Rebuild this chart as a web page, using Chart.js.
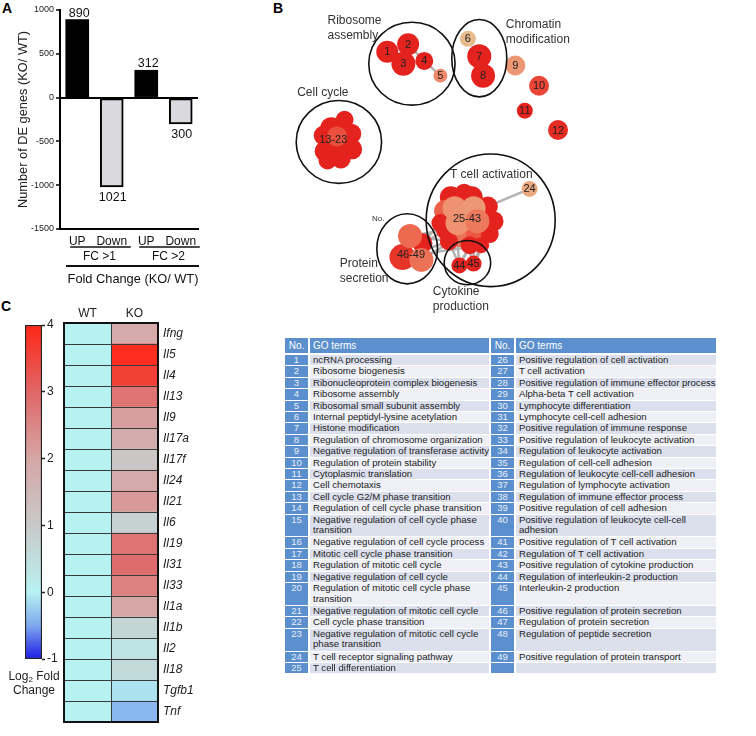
<!DOCTYPE html>
<html>
<head>
<meta charset="utf-8">
<script src="https://cdn.jsdelivr.net/npm/chart.js@4.4.1/dist/chart.umd.min.js"></script>
<style>
  body { margin: 0; background: #fff; font-family: "Liberation Sans", Arial, sans-serif; color: #222; }
  #fig { position: relative; width: 756px; height: 736px; overflow: hidden; }
  canvas { position: absolute; }
  .panel { position: absolute; font-weight: bold; font-size: 14px; color: #000; }
  #logLabel { position: absolute; left: 3px; top: 669px; width: 62px; text-align: center; font-size: 12px; line-height: 14px; color: #222; }
  #logLabel sub { font-size: 8px; vertical-align: -2px; line-height: 0; }
  #goTable { position: absolute; left: 283px; top: 337px; border-collapse: separate; border-spacing: 2px 1px; table-layout: fixed; width: 435px; font-size: 9.6px; }
  #goTable td { padding: 0 0 0 3px; line-height: 10.4px; white-space: pre; overflow: hidden; vertical-align: top; color: #222; }
  #goTable td.no { background: #5b8fcd; color: #e6eef8; text-align: center; padding: 0; }
  #goTable tr.hd td { background: #5b8fcd; color: #fff; font-size: 10px; height: 15px; line-height: 15px; vertical-align: middle; }
  #goTable tr.gap td { height: 0; line-height: 0; padding: 0; background: none; }
  #goTable tr.dk td.go { background: #dce0ed; }
  #goTable tr.lt td.go { background: #eef0f6; }
</style>
</head>
<body>
<div id="fig">
  <div class="panel" style="left:2px;top:0px">A</div>
  <div class="panel" style="left:273px;top:0px">B</div>
  <div class="panel" style="left:1px;top:298px">C</div>
  <canvas id="barA" width="250" height="300" style="left:0;top:0"></canvas>
  <canvas id="netB" width="506" height="330" style="left:250px;top:0"></canvas>
  <canvas id="heatC" width="250" height="436" style="left:0;top:300px"></canvas>
  <canvas id="scaleC" width="64" height="436" style="left:0;top:300px"></canvas>
  <div id="logLabel">Log<sub>2</sub> Fold<br>Change</div>
  <table id="goTable"></table>
</div>
<script>
// ---- Panel A: DE genes
const deCategories = ['UP', 'Down', 'UP', 'Down'];
const deCounts = [890, -1021, 312, -300];
const foldGroups = ['FC >1', 'FC >2'];
const foldTitle = 'Fold Change (KO/ WT)';

// ---- Panel B: GO term network (layout coordinates)
const termX = [131, 153, 148, 170, 187, 216, 228, 232, 266, 291, 276, 311,
  72, 86, 64, 93, 76, 65, 94, 82, 68, 90, 78,
  281,
  198, 220, 237, 243, 192, 194, 208, 226, 239, 187, 196, 218, 230, 212, 202, 222, 213, 205, 226,
  207, 222,
  168, 147, 167, 155];
const termY = [42, 34, 55, 52, 68, 28, 47, 68, 57, 79, 106, 127,
  125, 116, 133, 131, 146, 150, 148, 158, 160, 140, 134,
  191,
  200, 200, 210, 226, 215, 235, 242, 240, 240, 228, 248, 252, 252, 195, 212, 212, 222, 228, 226,
  274, 272,
  250, 265, 268, 242];
const termSize = [11, 11, 12, 9, 7, 8, 12, 12, 10, 10, 8, 10,
  11, 9, 10, 10, 11, 10, 10, 10, 9, 10, 10,
  8,
  11, 11, 10, 10, 11, 11, 11, 11, 9, 9, 9, 9, 8, 9, 12, 12, 13, 12, 12,
  8, 8,
  10, 13, 12, 12];
// enrichment score 0 (weak) .. 1 (strong)
const termScore = [1, 1, 1, 1, 0.4, 0, 1, 1, 0.3, 0.8, 1, 0.95,
  1, 1, 1, 1, 1, 1, 1, 1, 1, 1, 0.75,
  0.15,
  1, 1, 1, 1, 0.65, 1, 0.55, 0.7, 1, 1, 1, 1, 1, 1, 0.35, 0.3, 0.3, 0.35, 0.5,
  1, 1,
  1, 0.9, 0.55, 0.6];
const termNumbers = Array.from({ length: 49 }, (_, i) => i + 1);
const termEdges = [[2, 4], [4, 5], [24, 27], [46, 30], [46, 34], [49, 30], [47, 37], [48, 31], [47, 35], [49, 37],
  [44, 35], [44, 32], [44, 36], [45, 39], [45, 37], [45, 33], [44, 39], [45, 40]];
const singleLabels = [1, 2, 3, 4, 5, 6, 7, 8, 9, 10, 11, 12, 24, 44, 45];
const clusterLabels = ['13-23', '25-43', '46-49'];
const clusterLabelX = [74, 215, 156];
const clusterLabelY = [138, 224, 263];
const groupNames = ['Ribosome\nassembly', 'Chromatin\nmodification', 'Cell cycle', 'T cell activation', 'Protein\nsecretion', 'Cytokine\nproduction'];
const groupCx = [157, 228, 80, 240, 152, 215.5];
const groupCy = [55, 49, 140, 225, 256, 271];
const groupRx = [45.5, 29, 45, 68, 32, 24.5];
const groupRy = [45, 42, 45, 72, 38, 24];
const groupLabelX = [68, 256, 36, 197, 81, 179];
const groupLabelY = [8, 13, 87, 176, 272, 302];

// ---- GO table
const goTerms = [
  'ncRNA processing', 'Ribosome biogenesis', 'Ribonucleoprotein complex biogenesis', 'Ribosome assembly',
  'Ribosomal small subunit assembly', 'Internal peptidyl-lysine acetylation', 'Histone modification',
  'Regulation of chromosome organization', 'Negative regulation of transferase activity', 'Regulation of protein stability',
  'Cytoplasmic translation', 'Cell chemotaxis', 'Cell cycle G2/M phase transition', 'Regulation of cell cycle phase transition',
  'Negative regulation of cell cycle phase\ntransition', 'Negative regulation of cell cycle process',
  'Mitotic cell cycle phase transition', 'Regulation of mitotic cell cycle', 'Negative regulation of cell cycle',
  'Regulation of mitotic cell cycle phase\ntransition', 'Negative regulation of mitotic cell cycle', 'Cell cycle phase transition',
  'Negative regulation of mitotic cell cycle\nphase transition', 'T cell receptor signaling pathway', 'T cell differentiation',
  'Positive regulation of cell activation', 'T cell activation', 'Positive regulation of immune effector process',
  'Alpha-beta T cell activation', 'Lymphocyte differentiation', 'Lymphocyte cell-cell adhesion',
  'Positive regulation of immune response', 'Positive regulation of leukocyte activation', 'Regulation of leukocyte activation',
  'Regulation of cell-cell adhesion', 'Regulation of leukocyte cell-cell adhesion', 'Regulation of lymphocyte activation',
  'Regulation of immune effector process', 'Positive regulation of cell adhesion',
  'Positive regulation of leukocyte cell-cell\nadhesion', 'Positive regulation of T cell activation',
  'Regulation of T cell activation', 'Positive regulation of cytokine production', 'Regulation of interleukin-2 production',
  'Interleukin-2 production', 'Positive regulation of protein secretion', 'Regulation of protein secretion',
  'Regulation of peptide secretion', 'Positive regulation of protein transport'
];
const tableRows = 25;
const doubleRows = [15, 20, 23];

// ---- Panel C: cytokine heatmap
const genes = ['Ifng', 'Il5', 'Il4', 'Il13', 'Il9', 'Il17a', 'Il17f', 'Il24', 'Il21', 'Il6',
  'Il19', 'Il31', 'Il33', 'Il1a', 'Il1b', 'Il2', 'Il18', 'Tgfb1', 'Tnf'];
const samples = ['WT', 'KO'];
const wtLog2FC = [0, 0, 0, 0, 0, 0, 0, 0, 0, 0, 0, 0, 0, 0, 0, 0, 0, 0, 0];
const koLog2FC = [1.9, 3.9, 3.6, 2.8, 2.1, 1.8, 1.1, 1.9, 2.2, 0.8, 2.8, 2.9, 2.6, 2.0, 0.7, 0.35, 0.6, -0.1, -0.4];
const colorMin = -1, colorMax = 4;

const FONT = '"Liberation Sans", Arial, sans-serif';
Chart.defaults.font.family = FONT;
Chart.defaults.color = '#222';

// colour helpers
const fcStops = [[-1, '#1c1ce6'], [-0.5, '#7ea8ee'], [0, '#b8f1f1'], [1, '#c9c9c9'], [2, '#d6a6a6'], [3, '#e06666'], [4, '#ff2616']];
function hexRgb(h) { return [1, 3, 5].map(i => parseInt(h.slice(i, i + 2), 16)); }
function mix(a, b, t) {
  const A = hexRgb(a), B = hexRgb(b);
  return 'rgb(' + A.map((v, i) => Math.round(v + (B[i] - v) * t)).join(',') + ')';
}
function fcColor(v) {
  for (let i = 1; i < fcStops.length; i++) {
    if (v <= fcStops[i][0]) {
      const [v0, c0] = fcStops[i - 1], [v1, c1] = fcStops[i];
      return mix(c0, c1, Math.max(0, (v - v0) / (v1 - v0)));
    }
  }
  return fcStops[fcStops.length - 1][1];
}
function scoreColor(s) {
  if (s < 0.35) return mix('#e7bb8b', '#ee9270', s / 0.35);
  if (s < 0.7) return mix('#ee9270', '#ec5843', (s - 0.35) / 0.35);
  return mix('#ec5843', '#e4231e', (s - 0.7) / 0.3);
}

// ---------- Panel A
const barAnnotations = {
  id: 'barAnnotations',
  afterDatasetsDraw(chart) {
    const ctx = chart.ctx, meta = chart.getDatasetMeta(0), xs = chart.scales.x, area = chart.chartArea;
    ctx.save();
    ctx.fillStyle = '#111';
    ctx.font = '12.5px ' + FONT;
    ctx.textAlign = 'center';
    meta.data.forEach((bar, i) => {
      const v = deCounts[i];
      if (v > 0) { ctx.textBaseline = 'bottom'; ctx.fillText(v, bar.x + 2, bar.y); }
      else { ctx.textBaseline = 'top'; ctx.fillText(Math.abs(v), bar.x + 1, bar.y + 4); }
    });
    ctx.strokeStyle = '#111';
    ctx.lineWidth = 1.5;
    ctx.font = '12px ' + FONT;
    ctx.textBaseline = 'middle';
    foldGroups.forEach((g, gi) => {
      const a = xs.getPixelForValue(gi * 2), b = xs.getPixelForValue(gi * 2 + 1);
      ctx.beginPath();
      ctx.moveTo(a - 7, area.bottom + 18);
      ctx.lineTo(b + 19, area.bottom + 18);
      ctx.stroke();
      ctx.fillText(g, (a + b) / 2 + 5, area.bottom + 28);
    });
    ctx.lineWidth = 2;
    ctx.beginPath();
    ctx.moveTo(area.left + 6, area.bottom + 37);
    ctx.lineTo(area.right + 1, area.bottom + 37);
    ctx.stroke();
    ctx.font = '12.8px ' + FONT;
    ctx.fillText(foldTitle, (area.left + area.right) / 2 + 4, area.bottom + 50);
    ctx.restore();
  }
};

new Chart(document.getElementById('barA'), {
  type: 'bar',
  data: {
    labels: deCategories,
    datasets: [{
      data: deCounts,
      backgroundColor: deCounts.map(v => v > 0 ? '#000' : '#d9d9de'),
      borderColor: '#000',
      borderWidth: deCounts.map(v => v > 0 ? 0 : 2),
      borderSkipped: false,
      barThickness: 23
    }]
  },
  options: {
    responsive: false,
    animation: false,
    layout: { padding: { left: 0, right: 52, top: 10, bottom: 0 } },
    plugins: { legend: { display: false }, tooltip: { enabled: false } },
    scales: {
      x: {
        afterFit: s => { s.height = 71; },
        grid: { display: false, drawTicks: false },
        border: { color: '#000', width: 2 },
        ticks: { color: '#111', font: { size: 12 }, padding: 5, maxRotation: 0, minRotation: 0, autoSkip: false }
      },
      y: {
        min: -1500, max: 1000,
        afterFit: s => { s.width = 60; },
        ticks: { stepSize: 500, font: { size: 9 }, color: '#222', padding: 2, callback: v => String(v) },
        grid: {
          color: c => (c.tick && c.tick.value === 0 ? '#000' : 'rgba(0,0,0,0)'),
          lineWidth: 2, tickColor: '#000', tickLength: 4, tickWidth: 1.5
        },
        border: { color: '#000', width: 2 },
        title: { display: true, text: 'Number of DE genes (KO/ WT)', font: { size: 12.8 }, color: '#222', padding: { top: 16, bottom: 0 } }
      }
    }
  },
  plugins: [barAnnotations]
});

// ---------- Panel B
const networkEdges = {
  id: 'networkEdges',
  beforeDatasetsDraw(chart) {
    const ctx = chart.ctx, pts = chart.getDatasetMeta(0).data;
    ctx.save();
    ctx.strokeStyle = '#b3b3b3';
    ctx.lineWidth = 2.5;
    termEdges.forEach(([a, b]) => {
      ctx.beginPath();
      ctx.moveTo(pts[a - 1].x, pts[a - 1].y);
      ctx.lineTo(pts[b - 1].x, pts[b - 1].y);
      ctx.stroke();
    });
    ctx.restore();
  }
};

const networkOverlay = {
  id: 'networkOverlay',
  afterDatasetsDraw(chart) {
    const ctx = chart.ctx, pts = chart.getDatasetMeta(0).data, xs = chart.scales.x, ys = chart.scales.y;
    ctx.save();
    ctx.fillStyle = '#222';
    ctx.font = '11px ' + FONT;
    ctx.textAlign = 'center';
    ctx.textBaseline = 'middle';
    singleLabels.forEach(n => ctx.fillText(String(termNumbers[n - 1]), pts[n - 1].x, pts[n - 1].y + 0.5));
    clusterLabels.forEach((t, i) => ctx.fillText(t, xs.getPixelForValue(clusterLabelX[i]), ys.getPixelForValue(clusterLabelY[i])));
    // group outlines
    ctx.strokeStyle = '#111';
    ctx.lineWidth = 1.6;
    groupNames.forEach((g, i) => {
      const cx = xs.getPixelForValue(groupCx[i]), cy = ys.getPixelForValue(groupCy[i]);
      const rx = Math.abs(xs.getPixelForValue(groupCx[i] + groupRx[i]) - cx);
      const ry = Math.abs(ys.getPixelForValue(groupCy[i] + groupRy[i]) - cy);
      ctx.beginPath();
      ctx.ellipse(cx, cy, rx, ry, 0, 0, Math.PI * 2);
      ctx.stroke();
    });
    ctx.fillStyle = '#333';
    ctx.font = '12px ' + FONT;
    ctx.textAlign = 'left';
    groupNames.forEach((g, i) => {
      g.split('\n').forEach((line, k) => {
        ctx.fillText(line, xs.getPixelForValue(groupLabelX[i]), ys.getPixelForValue(groupLabelY[i]) + k * 15);
      });
    });
    ctx.font = '8px ' + FONT;
    ctx.fillText('No.', xs.getPixelForValue(115), ys.getPixelForValue(223));
    ctx.restore();
  }
};

new Chart(document.getElementById('netB'), {
  type: 'bubble',
  data: {
    datasets: [{
      data: termX.map((x, i) => ({ x, y: termY[i], r: termSize[i] })),
      backgroundColor: termScore.map(scoreColor),
      borderWidth: 0,
      clip: false
    }]
  },
  options: {
    responsive: false,
    animation: false,
    layout: { padding: 0 },
    plugins: { legend: { display: false }, tooltip: { enabled: false } },
    scales: {
      x: { type: 'linear', min: 0, max: 506, display: false },
      y: { type: 'linear', min: 0, max: 330, reverse: true, display: false }
    }
  },
  plugins: [networkEdges, networkOverlay]
});

// ---------- GO table
(function buildTable() {
  const tbl = document.getElementById('goTable');
  let html = '<colgroup><col style="width:23px"><col style="width:179px"><col style="width:23px"><col style="width:200px"></colgroup>';
  html += '<tr class="hd"><td class="no">No.</td><td>GO terms</td><td class="no">No.</td><td>GO terms</td></tr>';
  html += '<tr class="gap"><td></td><td></td><td></td><td></td></tr>';
  for (let r = 0; r < tableRows; r++) {
    const left = r + 1, right = r + 1 + tableRows;
    const h = doubleRows.includes(left) ? 'height:21.8px' : 'height:10.4px';
    html += '<tr class="' + (r % 2 === 0 ? 'dk' : 'lt') + '" style="' + h + '">' +
      '<td class="no">' + left + '</td><td class="go">' + goTerms[left - 1] + '</td>' +
      '<td class="no">' + (right <= goTerms.length ? right : '') + '</td>' +
      '<td class="go">' + (right <= goTerms.length ? goTerms[right - 1] : '') + '</td></tr>';
  }
  tbl.innerHTML = html;
})();

// ---------- Panel C heatmap
const heatLines = {
  id: 'heatLines',
  afterDatasetsDraw(chart) {
    const ctx = chart.ctx, a = chart.chartArea, xs = chart.scales.x;
    const step = (a.bottom - a.top) / genes.length;
    ctx.save();
    ctx.strokeStyle = '#3a3a3a';
    ctx.lineWidth = 1;
    for (let i = 1; i < genes.length; i++) {
      const y = Math.round(a.top + i * step) + 0.5;
      ctx.beginPath(); ctx.moveTo(a.left, y); ctx.lineTo(a.right, y); ctx.stroke();
    }
    for (let j = 1; j < samples.length; j++) {
      const x = Math.round(xs.getPixelForValue(j)) + 0.5;
      ctx.beginPath(); ctx.moveTo(x, a.top); ctx.lineTo(x, a.bottom); ctx.stroke();
    }
    ctx.strokeStyle = '#111';
    ctx.lineWidth = 2;
    ctx.strokeRect(a.left, a.top, a.right - a.left, a.bottom - a.top);
    ctx.restore();
  }
};

new Chart(document.getElementById('heatC'), {
  type: 'bar',
  data: {
    labels: genes,
    datasets: [
      { label: samples[0], data: wtLog2FC.map(() => [0, 1]), backgroundColor: wtLog2FC.map(fcColor) },
      { label: samples[1], data: koLog2FC.map(() => [1, 2]), backgroundColor: koLog2FC.map(fcColor) }
    ]
  },
  options: {
    indexAxis: 'y',
    responsive: false,
    animation: false,
    layout: { padding: { left: 64, right: 0, top: 0, bottom: 14 } },
    plugins: { legend: { display: false }, tooltip: { enabled: false } },
    datasets: { bar: { grouped: false, barPercentage: 1, categoryPercentage: 1, borderWidth: 0 } },
    scales: {
      x: {
        type: 'linear', position: 'top', min: 0, max: 2,
        afterBuildTicks: s => { s.ticks = [{ value: 0.5 }, { value: 1.5 }]; },
        afterFit: s => { s.height = 23; },
        ticks: { callback: (v, i) => samples[i], font: { size: 12 }, color: '#222', padding: 2 },
        grid: { display: false, drawTicks: false },
        border: { display: false }
      },
      y: {
        position: 'right',
        afterFit: s => { s.width = 92; },
        ticks: { font: { size: 12, style: 'italic' }, color: '#222', padding: 5 },
        grid: { display: false, drawTicks: false },
        border: { display: false }
      }
    }
  },
  plugins: [heatLines]
});

// colour scale bar
new Chart(document.getElementById('scaleC'), {
  type: 'bar',
  data: {
    labels: [''],
    datasets: [{
      data: [[colorMin, colorMax]],
      backgroundColor: c => {
        const area = c.chart.chartArea;
        if (!area) return '#ccc';
        const ys = c.chart.scales.y;
        const g = c.chart.ctx.createLinearGradient(0, ys.getPixelForValue(colorMin), 0, ys.getPixelForValue(colorMax));
        fcStops.forEach(([v, col]) => g.addColorStop((v - colorMin) / (colorMax - colorMin), col));
        return g;
      },
      borderColor: '#222',
      borderWidth: 1.5,
      borderSkipped: false,
      barPercentage: 1,
      categoryPercentage: 1
    }]
  },
  options: {
    responsive: false,
    animation: false,
    layout: { padding: { left: 25, right: 0, top: 25, bottom: 77 } },
    plugins: { legend: { display: false }, tooltip: { enabled: false } },
    scales: {
      x: { display: false },
      y: {
        position: 'right', min: colorMin, max: colorMax,
        afterFit: s => { s.width = 22; },
        ticks: { stepSize: 1, font: { size: 12 }, color: '#222', padding: 2 },
        grid: { drawOnChartArea: false, tickLength: 3, tickColor: '#222', tickWidth: 1.5 },
        border: { display: false }
      }
    }
  }
});
</script>
</body>
</html>
